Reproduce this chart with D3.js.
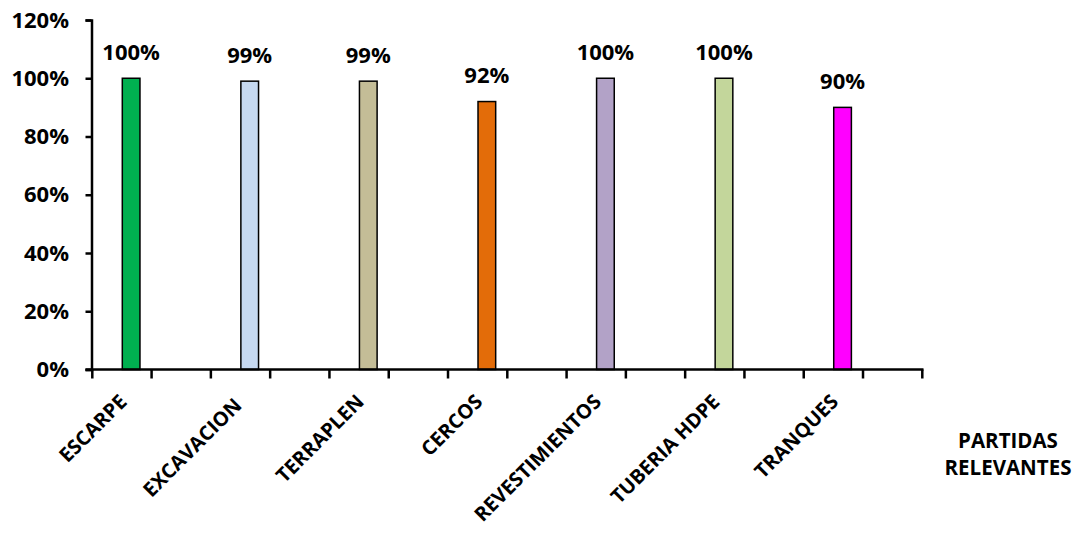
<!DOCTYPE html>
<html><head><meta charset="utf-8">
<script src="https://cdn.jsdelivr.net/npm/d3@7"></script>
<style>body{margin:0;background:#fff}svg{display:block}text{font-family:"Open Sans",sans-serif;font-weight:bold;fill:#000}</style>
</head><body>
<svg id="c" width="1087" height="541"></svg>
<script>
const categories = ["ESCARPE","EXCAVACION ","TERRAPLEN","CERCOS","REVESTIMIENTOS","TUBERIA HDPE","TRANQUES"];
const values = [100, 99, 99, 92, 100, 100, 90];
const valueLabels = ["100%","99%","99%","92%","100%","100%","90%"];
const colors = ["#00B050","#C6D9F1","#C4BD97","#E36C09","#B2A2C7","#C3D69B","#FF00FF"];
const yTicks = [0,20,40,60,80,100,120];
const axisTitle = ["PARTIDAS","RELEVANTES"];

const svg = d3.select("#c");
const x = d3.scaleBand().domain(categories).range([92.3, 922.3]).padding(0);
const y = d3.scaleLinear().domain([0,120]).range([369.5, 20]);
const bw = x.bandwidth();
const fs = 22;

// bars
svg.selectAll("rect.bar").data(categories).join("rect")
  .attr("class","bar")
  .attr("x", d => x(d) + 0.253*bw)
  .attr("width", 0.149*bw)
  .attr("y", (d,i) => y(values[i]))
  .attr("height", (d,i) => y(0) - y(values[i]))
  .attr("fill", (d,i) => colors[i])
  .attr("stroke", "#000").attr("stroke-width", 1.5);

// value labels
svg.selectAll("text.val").data(categories).join("text")
  .attr("class","val")
  .attr("x", d => x(d) + 0.3275*bw)
  .attr("y", (d,i) => y(values[i]) - 18.4)
  .attr("text-anchor","middle")
  .style("font-size", fs+"px")
  .text((d,i) => valueLabels[i]);

// y axis
const yAxis = d3.axisLeft(y).tickValues(yTicks).tickFormat(d => d + "%").tickSize(6).tickPadding(16.5);
const gy = svg.append("g").attr("transform","translate(91.5,0)").call(yAxis);
gy.select(".domain").attr("stroke","#000").attr("stroke-width",2.5);
gy.selectAll(".tick line").attr("stroke","#000").attr("stroke-width",2.5);
gy.selectAll(".tick text").style("font-size", fs+"px").style("font-family","Open Sans").style("font-weight","bold").attr("fill","#000");

// x axis line and ticks (ticks at band edges and mid-bands)
const tickPos = [];
categories.forEach(c => { tickPos.push(x(c)); tickPos.push(x(c) + bw/2); });
tickPos.push(x(categories[categories.length-1]) + bw);
const gx = svg.append("g");
gx.append("line").attr("x1", 85.5).attr("x2", 923.5).attr("y1", y(0)).attr("y2", y(0))
  .attr("stroke","#000").attr("stroke-width",2.5);
gx.selectAll("line.t").data(tickPos).join("line").attr("class","t")
  .attr("x1", d => d).attr("x2", d => d).attr("y1", y(0)).attr("y2", y(0) + 9)
  .attr("stroke","#000").attr("stroke-width",2.5);

// category labels rotated
svg.selectAll("text.cat").data(categories).join("text")
  .attr("class","cat")
  .attr("transform", d => `translate(${x(d) + 0.3275*bw - 3},403) rotate(-45)`)
  .attr("text-anchor","end")
  .style("white-space","pre")
  .style("font-size", "20px")
  .text(d => d);

// axis title
svg.append("text").attr("x", 1008).attr("y", 448).attr("text-anchor","middle")
  .style("font-size", "20.5px").text(axisTitle[0]);
svg.append("text").attr("x", 1008).attr("y", 475).attr("text-anchor","middle")
  .style("font-size", "20.5px").text(axisTitle[1]);
</script>
</body></html>
